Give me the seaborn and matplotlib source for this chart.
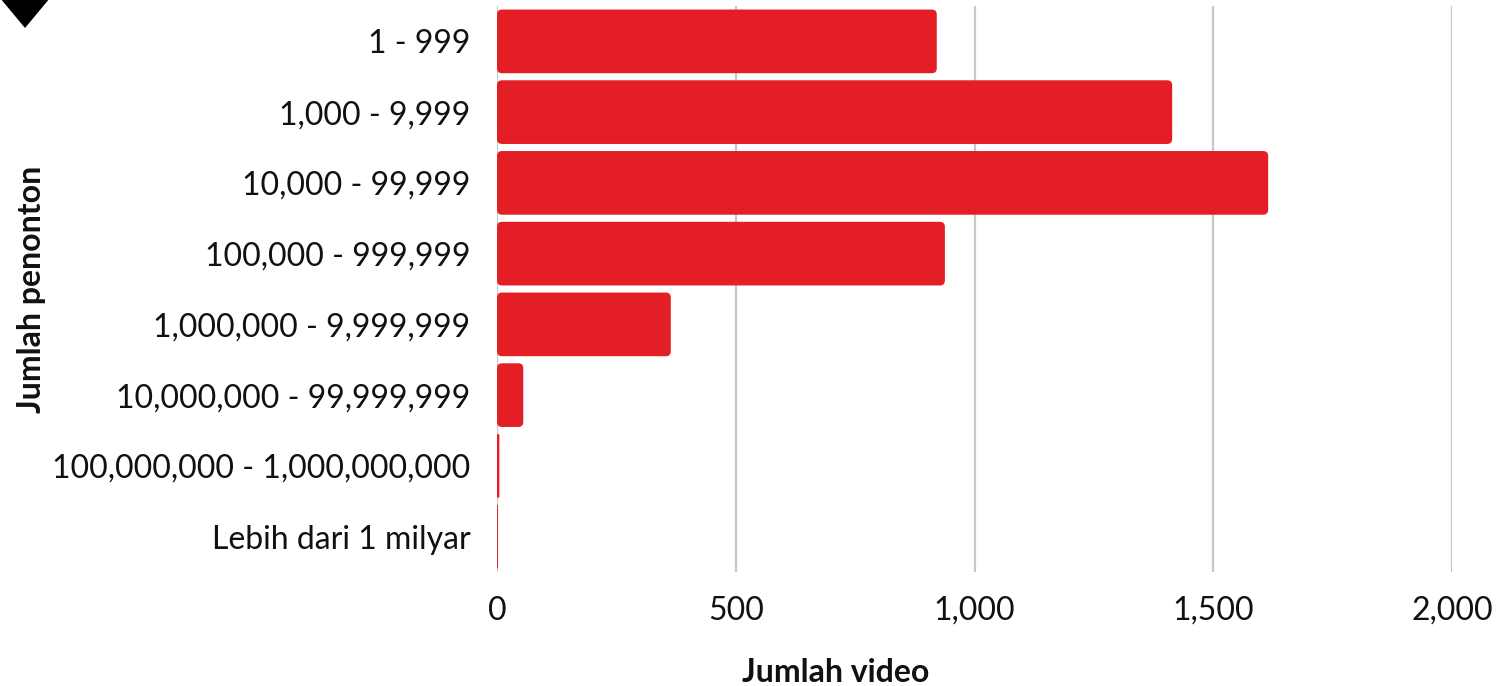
import matplotlib
matplotlib.use("Agg")
import matplotlib.pyplot as plt
import seaborn as sns
import pandas as pd
from matplotlib.patches import FancyBboxPatch, Polygon
from matplotlib.ticker import FuncFormatter

categories = ["1 - 999", "1,000 - 9,999", "10,000 - 99,999", "100,000 - 999,999",
              "1,000,000 - 9,999,999", "10,000,000 - 99,999,999",
              "100,000,000 - 1,000,000,000", "Lebih dari 1 milyar"]
values = [921, 1414, 1615, 938, 364, 55, 5, 2]
xticks = [0, 500, 1000, 1500, 2000]

sns.set_theme(style="white")
plt.rcParams['font.family'] = ['Lato', 'DejaVu Sans']

df = pd.DataFrame({"cat": categories, "val": values})

fig = plt.figure(figsize=(15.09, 6.86), dpi=100)
ax = fig.add_axes([497/1509, 1-572/686, (1452-497)/1509, (572-6)/686])
RED = "#e31e24"
sns.barplot(data=df, y="cat", x="val", color=RED, width=0.9, saturation=1, ax=ax, zorder=3)

# rounded bars
xpx = (1452-497)/2000.0
ypx = (572-6)/8.0
aspect = (1/ypx)/(1/xpx)
for p in list(ax.patches):
    x0, y0 = p.get_x(), p.get_y()
    w, h = p.get_width(), p.get_height()
    r = min(5/xpx, w/2)
    fb = FancyBboxPatch((x0, y0), w, h, boxstyle=f"round,pad=0,rounding_size={r}",
                        mutation_aspect=aspect, facecolor=RED, edgecolor="none", zorder=3)
    p.remove()
    ax.add_patch(fb)

ax.set_xlim(0, 2000)
ax.set_ylim(7.5, -0.5)
ax.set_xticks(xticks)
ax.xaxis.set_major_formatter(FuncFormatter(lambda v, _: f"{int(v):,}"))
ax.grid(axis="x", color="#c8c8c8", linewidth=1.6, zorder=0)
ax.grid(axis="y", visible=False)
for s in ax.spines.values():
    s.set_visible(False)
ax.tick_params(axis="y", length=0, pad=19, labelsize=23, labelcolor="#111111")
ax.tick_params(axis="x", length=0, pad=17, labelsize=23, labelcolor="#111111")
ax.set_xlabel("Jumlah video", fontsize=23, fontweight="bold", color="#111111")
ax.set_ylabel("Jumlah penonton", fontsize=23, fontweight="bold", color="#111111")
ax.xaxis.set_label_coords(0.355, -0.152)
ax.yaxis.set_label_coords(-0.472, 0.5)

tri = Polygon([[0/1509, 1 + 2/686], [50/1509, 1 + 2/686], [25/1509, 1 - 28/686]],
              closed=True, transform=fig.transFigure, facecolor="black", edgecolor="none")
fig.patches.append(tri)

fig.savefig("out.png", dpi=100)
